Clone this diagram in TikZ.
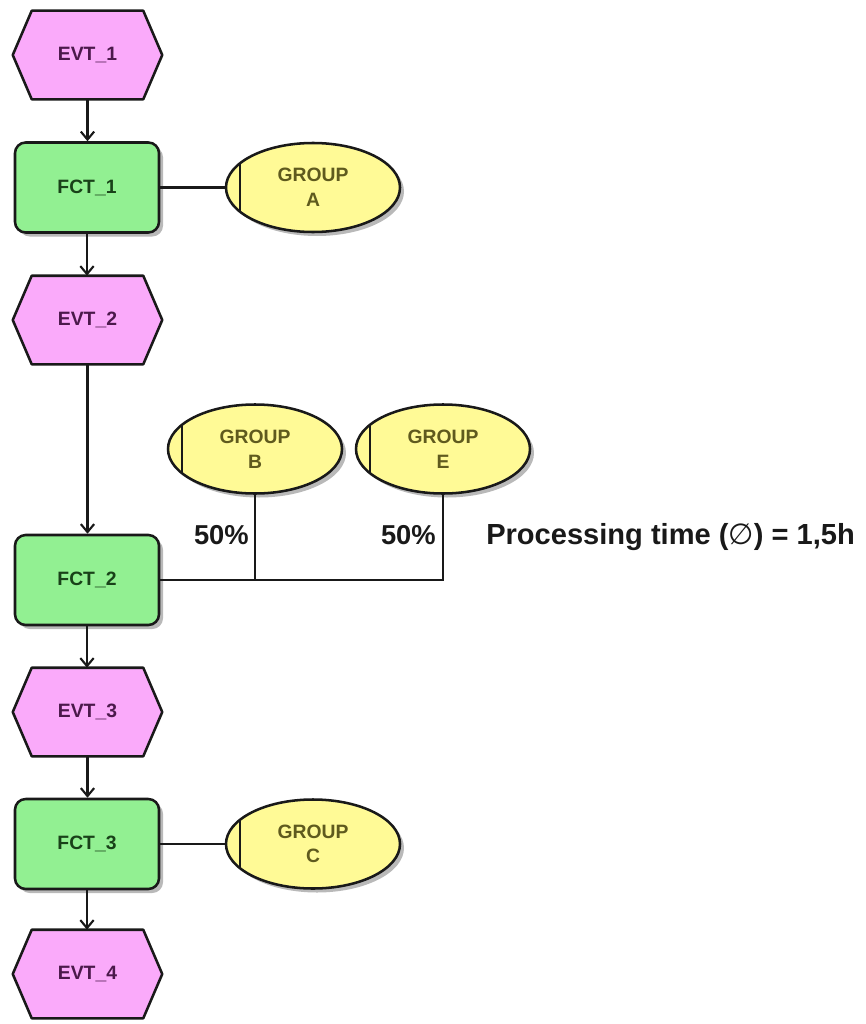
\documentclass[tikz,border=0pt]{standalone}
\usepackage{fontspec}
\setmainfont{Liberation Sans}
\newfontfamily\djv{DejaVu Sans}
\usetikzlibrary{arrows.meta,backgrounds,shadows,calc,shapes.geometric}
\definecolor{evtfill}{RGB}{250,170,250}
\definecolor{evttext}{RGB}{75,25,75}
\definecolor{fctfill}{RGB}{146,240,146}
\definecolor{fcttext}{RGB}{25,65,25}
\definecolor{grpfill}{RGB}{255,250,150}
\definecolor{grptext}{RGB}{95,90,30}
\definecolor{bordc}{RGB}{25,25,25}
\definecolor{shadc}{RGB}{185,185,185}
\tikzset{
  shapefont/.style={font=\fontsize{14.5}{18.5}\selectfont\bfseries},
  evtbox/.style={shapefont, text=evttext, minimum width=149*0.75pt, minimum height=88*0.75pt, inner sep=0pt},
  evtshape/.style={fill=evtfill, draw=bordc, line width=1.9pt, line join=round},
  fctbox/.style={shapefont, text=fcttext, rectangle, rounded corners=8pt, fill=fctfill, draw=bordc, line width=1.9pt,
    minimum width=144*0.75pt, minimum height=90*0.75pt, inner sep=0pt,
    drop shadow={shadow xshift=3pt, shadow yshift=-3pt, fill=shadc, opacity=1}},
  grpbox/.style={shapefont, text=grptext, ellipse, align=center, fill=grpfill, draw=bordc, line width=1.9pt,
    minimum width=174*0.75pt, minimum height=89*0.75pt, inner sep=0pt,
    drop shadow={shadow xshift=3pt, shadow yshift=-3pt, fill=shadc, opacity=1},
    path picture={\draw[bordc, line width=1.9pt] ([xshift=14*0.75pt]path picture bounding box.west) ++(0,-60) -- ++(0,120);}},
  conn/.style={bordc, line width=1.6pt},
  arr/.style={conn, -{Straight Barb[length=6pt,width=10pt,line width=1.6pt]}},
  bigtext/.style={font=\fontsize{20.5}{24}\selectfont\bfseries, text=bordc, inner sep=0pt}
}
\newcommand{\evtnode}[3]{%
  \node[evtbox] (#1) at (#2) {#3};
  \begin{scope}[on background layer]
    \fill[shadc, shift={(4,4)}] (#1.west) -- ($(#1.north west)+(19,0)$) -- ($(#1.north east)+(-19,0)$) -- (#1.east) -- ($(#1.south east)+(-19,0)$) -- ($(#1.south west)+(19,0)$) -- cycle;
    \filldraw[evtshape] (#1.west) -- ($(#1.north west)+(19,0)$) -- ($(#1.north east)+(-19,0)$) -- (#1.east) -- ($(#1.south east)+(-19,0)$) -- ($(#1.south west)+(19,0)$) -- cycle;
  \end{scope}}
\begin{document}
\begin{tikzpicture}[x=0.75pt,y=-0.75pt]
\useasboundingbox (0,0) rectangle (866,1024);
\evtnode{e1}{87.5,55}{EVT\_1}
\node[fctbox] (f1) at (87,187.5) {FCT\_1};
\node[grpbox] (ga) at (313,187.5) {GROUP\\A};
\evtnode{e2}{87.5,320}{EVT\_2}
\node[grpbox] (gb) at (255,449) {GROUP\\B};
\node[grpbox] (ge) at (443,449) {GROUP\\E};
\node[fctbox] (f2) at (87,580) {FCT\_2};
\evtnode{e3}{87.5,712}{EVT\_3}
\node[fctbox] (f3) at (87,844) {FCT\_3};
\node[grpbox] (gc) at (313,844) {GROUP\\C};
\evtnode{e4}{87.5,974}{EVT\_4}

\node[bigtext, anchor=base east] (p1) at (249,544) {50\%};
\node[bigtext, anchor=base east] (p2) at (436,544) {50\%};
\node[bigtext, anchor=base west, font=\fontsize{21.8}{24}\selectfont\bfseries] (pt) at (486,544) {Processing time ({\djv\mdseries ∅}) = 1,5h};

\draw[arr] (e1.south) -- (f1.north -| e1.south);
\draw[conn] (f1.east) -- (ga.west);
\draw[arr] (f1.south) -- (e2.north -| f1.south);
\draw[arr] (e2.south) -- (f2.north -| e2.south);
\draw[conn] (f2.east) -- (f2.east -| ge.south) -- (ge.south);
\draw[conn] (gb.south) -- (gb.south |- f2.east);
\draw[arr] (f2.south) -- (e3.north -| f2.south);
\draw[arr] (e3.south) -- (f3.north -| e3.south);
\draw[conn] (f3.east) -- (gc.west);
\draw[arr] (f3.south) -- (e4.north -| f3.south);
\end{tikzpicture}
\end{document}
